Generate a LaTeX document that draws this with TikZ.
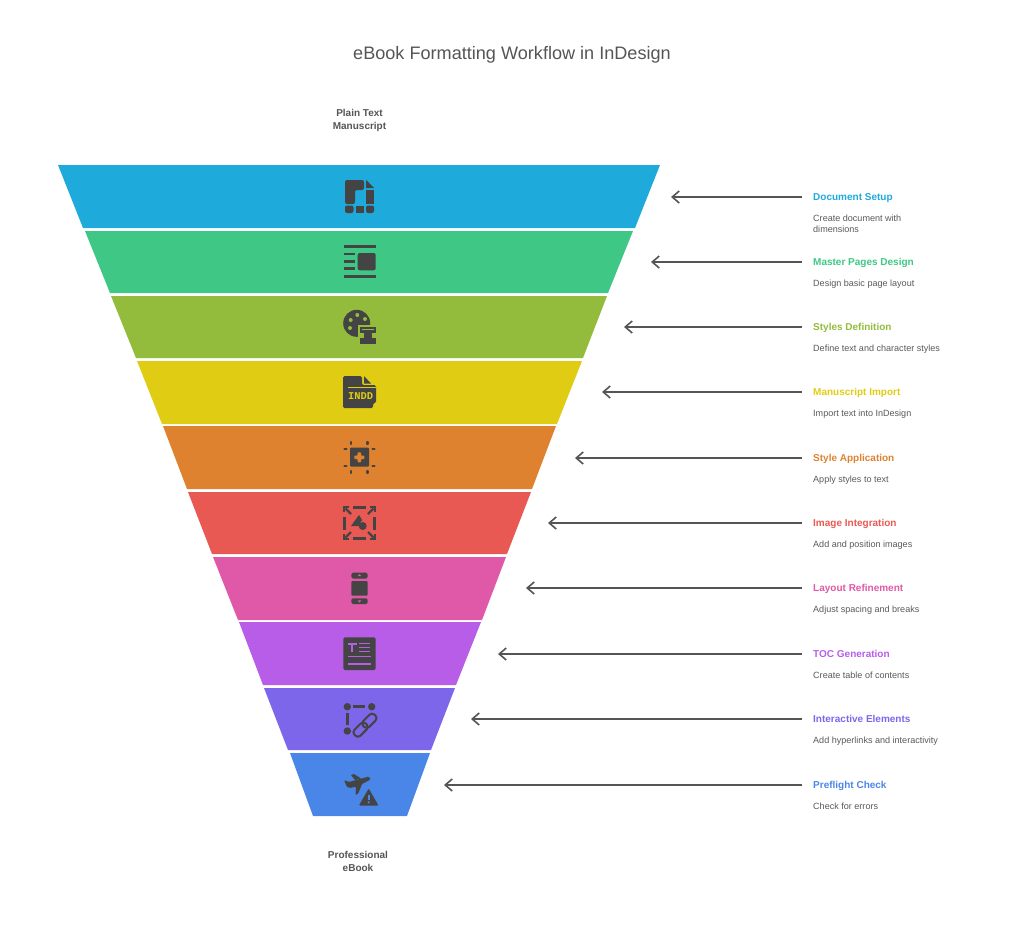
\documentclass[tikz,border=0pt]{standalone}
\usepackage{fontspec}
\setmainfont{Liberation Sans}
\setmonofont{Liberation Mono}
\usetikzlibrary{positioning,arrows.meta}
\definecolor{titlegrey}{HTML}{555555}
\definecolor{inkgrey}{HTML}{444444}
\definecolor{descgrey}{HTML}{595959}
\definecolor{setupcol}{HTML}{1FAADC}
\definecolor{mastercol}{HTML}{3EC785}
\definecolor{stylescol}{HTML}{93BC3C}
\definecolor{importcol}{HTML}{E1CC14}
\definecolor{applycol}{HTML}{DF8230}
\definecolor{imagecol}{HTML}{E85953}
\definecolor{layoutcol}{HTML}{E058A8}
\definecolor{toccol}{HTML}{B85DE8}
\definecolor{linkcol}{HTML}{7D66E9}
\definecolor{flightcol}{HTML}{4A86E8}
\tikzset{
	titletext/.style={text=titlegrey,inner sep=0pt,font=\fontsize{18.1}{22}\selectfont},
	endtext/.style={text=titlegrey,inner sep=0pt,align=center,font=\fontsize{10}{13}\selectfont\bfseries},
	stagehead/.style={anchor=west,inner sep=0pt,text height=8.5pt,text depth=2pt,font=\fontsize{10}{12}\selectfont\bfseries},
	stagedesc/.style={anchor=north west,inner sep=0pt,text=descgrey,align=left,font=\fontsize{9.05}{11.2}\selectfont},
	stagearrow/.style={draw=titlegrey,line width=1.6pt,-{Straight Barb[length=7pt,width=12pt,line width=1.6pt]}},
	iconfill/.style={fill=inkgrey},
	iconline/.style={draw=inkgrey,line width=2.8pt},
}
\begin{document}
\begin{tikzpicture}[x=1pt,y=-1pt]
	\useasboundingbox (0,0) rectangle (1024,937);
	%% title and the two ends
	\node[titletext] (title) at (512,54.5) {eBook Formatting Workflow in InDesign};
	\node[endtext] (plain) at (359.5,120.5) {Plain Text\\Manuscript};
	\node[endtext] (ebook) at (358,861) {Professional\\eBook};

	%% funnel bands
	\fill[setupcol] (58,165) -- (660,165) -- (635,228) -- (83,228) -- cycle;
	\fill[mastercol] (85,231) -- (633,231) -- (608,293) -- (110,293) -- cycle;
	\fill[stylescol] (111,296) -- (607,296) -- (583,358) -- (136,358) -- cycle;
	\fill[importcol] (137,361) -- (582,361) -- (557,424) -- (162,424) -- cycle;
	\fill[applycol] (163,426) -- (556,426) -- (532,489) -- (187,489) -- cycle;
	\fill[imagecol] (188,492) -- (531,492) -- (507,554) -- (212,554) -- cycle;
	\fill[layoutcol] (213,557) -- (506,557) -- (482,620) -- (238,620) -- cycle;
	\fill[toccol] (239,622) -- (481,622) -- (456,685) -- (263,685) -- cycle;
	\fill[linkcol] (264,688) -- (455,688) -- (431,750) -- (288,750) -- cycle;
	\fill[flightcol] (290,753) -- (430,753) -- (407,816) -- (313,816) -- cycle;

	%% document icon
	\fill[iconfill,rounded corners=2pt] (345,180) -- (364,180) -- (364,190) -- (355,190) -- (355,204) -- (345,204) -- cycle;
	\fill[iconfill] (366,180) -- (374,188) -- (366,188) -- cycle;
	\fill[iconfill] (366,189.5) rectangle (374,203.5);
	\fill[iconfill,rounded corners=2pt] (345,205.5) -- (353.5,205.5) -- (353.5,213) -- (345,213) -- cycle;
	\fill[iconfill] (355.5,205.5) rectangle (364,213);
	\fill[iconfill,rounded corners=2pt] (366,205.5) -- (374,205.5) -- (374,213) -- (366,213) -- cycle;

	%% master page icon
	\draw[iconline] (343.5,246.5) -- (375.5,246.5);
	\draw[iconline] (343.5,276.2) -- (375.5,276.2);
	\draw[iconline] (343.5,254) -- (355,254);
	\draw[iconline] (343.5,261.3) -- (355,261.3);
	\draw[iconline] (343.5,268.7) -- (355,268.7);
	\fill[iconfill,rounded corners=2pt] (357.7,253) rectangle (375.7,270.3);

	%% palette and server icon
	\fill[iconfill] (356.7,323.3) circle (13.5);
	\fill[stylescol] (350.7,320) circle (2);
	\fill[stylescol] (357.3,315) circle (2);
	\fill[stylescol] (365,319) circle (2);
	\fill[stylescol] (350,328) circle (2);
	\fill[stylescol] (357.5,325) rectangle (377,345);
	\fill[iconfill] (359.5,326.5) rectangle (376,333);
	\fill[iconfill] (364,333) rectangle (372,338);
	\fill[iconfill] (359.5,338) rectangle (376,343.5);
	\draw[stylescol,line width=0.8pt] (362,329.8) -- (373.5,329.8);

	%% indd file icon
	\fill[iconfill,rounded corners=1.5pt] (343,376) -- (362,376) -- (362,385) -- (376,385) -- (376,403) -- (373,403) -- (373,408) -- (343,408) -- cycle;
	\fill[iconfill] (364,376) -- (371,383.5) -- (364,383.5) -- cycle;
	\draw[importcol,line width=0.9pt] (348,387.5) -- (376,387.5);
	\node[inner sep=0pt,text=importcol,font=\fontsize{10.4}{11}\selectfont\ttfamily\bfseries] (indd) at (360.7,396.5) {INDD};

	%% apply icon
	\fill[iconfill,rounded corners=1pt] (350,447.7) rectangle (369,466.7);
	\fill[applycol,rounded corners=0.8pt] (357.6,452.3) -- (361,452.3) -- (361,455.6) -- (364.4,455.6) -- (364.4,459) -- (361,459) -- (361,462.3) -- (357.6,462.3) -- (357.6,459) -- (354.3,459) -- (354.3,455.6) -- (357.6,455.6) -- cycle;
	\draw[iconline,line width=2.4pt,line cap=round] (351,442) -- (351,444) (367.3,442) -- (367.3,444);
	\draw[iconline,line width=2.4pt,line cap=round] (351,471) -- (351,473) (367.3,471) -- (367.3,473);
	\draw[iconline,line width=2.4pt,line cap=round] (344.5,449) -- (346.5,449) (344.5,465.7) -- (346.5,465.7);
	\draw[iconline,line width=2.4pt,line cap=round] (372.5,449) -- (374.5,449) (372.5,465.7) -- (374.5,465.7);

	%% image frame icon
	\draw[iconline] (353.3,507.5) -- (366,507.5);
	\draw[iconline] (353.3,538.3) -- (366,538.3);
	\draw[iconline] (344.5,516.7) -- (344.5,530);
	\draw[iconline] (374.5,516.7) -- (374.5,530);
	\draw[iconline,line width=2.4pt] (345.5,508.5) -- (351,514);
	\draw[iconline,line width=2.4pt] (373.5,508.5) -- (368,514);
	\draw[iconline,line width=2.4pt] (345.5,537.5) -- (351,532);
	\draw[iconline,line width=2.4pt] (373.5,537.5) -- (368,532);
	\draw[iconline,line width=2pt] (344,512) -- (344,507) -- (349,507);
	\draw[iconline,line width=2pt] (375,512) -- (375,507) -- (370,507);
	\draw[iconline,line width=2pt] (344,534) -- (344,539) -- (349,539);
	\draw[iconline,line width=2pt] (375,534) -- (375,539) -- (370,539);
	\fill[iconfill] (359,515) -- (351,526) -- (358.5,526) -- (362,520) -- cycle;
	\fill[iconfill] (362.7,526) circle (4);

	%% phone icon
	\fill[iconfill,rounded corners=1.5pt] (351.3,572.7) rectangle (367.7,578.5);
	\fill[layoutcol] (359.5,574) -- (361.3,576.2) -- (357.7,576.2) -- cycle;
	\fill[iconfill,rounded corners=1pt] (351.3,581) rectangle (367.7,595.7);
	\fill[iconfill,rounded corners=1.5pt] (351.3,598.3) rectangle (367.7,604);
	\fill[layoutcol] (359.5,602.6) -- (361.3,600.4) -- (357.7,600.4) -- cycle;

	%% contents icon
	\fill[iconfill,rounded corners=2pt] (343.3,637.3) rectangle (375.7,670);
	\draw[toccol,line width=1.8pt] (348,644.3) -- (356.7,644.3) (352.3,644.3) -- (352.3,652);
	\draw[toccol,line width=1.2pt] (359,643.5) -- (370,643.5) (359,647.5) -- (370,647.5) (359,651.5) -- (370,651.5);
	\draw[toccol,line width=1.4pt] (348,656.7) -- (370.7,656.7) (348,664) -- (370.7,664);

	%% hyperlink icon
	\fill[iconfill] (347.3,706.7) circle (3.7);
	\fill[iconfill] (371.7,706.7) circle (3.7);
	\fill[iconfill] (347.3,731) circle (3.7);
	\draw[iconline] (353.3,706.7) -- (365,706.7);
	\draw[iconline] (347.3,713) -- (347.3,725);
	\draw[iconline,line width=2pt,rounded corners=3.6pt,rotate around={45:(360.6,729.6)}] (352.6,725.4) rectangle (368.6,733.8);
	\draw[iconline,line width=2pt,rounded corners=3.6pt,rotate around={45:(369.4,720.8)}] (361.4,716.6) rectangle (377.4,725);

	%% plane and warning icon
	\fill[iconfill,rounded corners=1pt] (344,780) -- (349,782) -- (369,776.5) -- (370.5,779.5) -- (362,784) -- (358,794) -- (355.5,795) -- (356,786.5) -- (350,788) -- (347,787) -- cycle;
	\fill[iconfill] (351,775) -- (354,774) -- (361,778.5) -- (355,780) -- cycle;
	\fill[iconfill,rounded corners=1pt] (368.7,788.5) -- (378.5,805.5) -- (358.9,805.5) -- cycle;
	\draw[flightcol,line width=2pt] (368.7,794.5) -- (368.7,799.5);
	\fill[flightcol] (368.7,802.3) circle (1.2);

	%% stage labels
	\node[stagehead,text=setupcol] (h1) at (813,197) {Document Setup};
	\node[stagedesc,below=12pt of h1.south west,anchor=north west] (d1) {Create document with\\dimensions};
	\node[stagehead,text=mastercol] (h2) at (813,262) {Master Pages Design};
	\node[stagedesc,below=12pt of h2.south west,anchor=north west] (d2) {Design basic page layout};
	\node[stagehead,text=stylescol] (h3) at (813,327) {Styles Definition};
	\node[stagedesc,below=12pt of h3.south west,anchor=north west] (d3) {Define text and character styles};
	\node[stagehead,text=importcol] (h4) at (813,392) {Manuscript Import};
	\node[stagedesc,below=12pt of h4.south west,anchor=north west] (d4) {Import text into InDesign};
	\node[stagehead,text=applycol] (h5) at (813,458) {Style Application};
	\node[stagedesc,below=12pt of h5.south west,anchor=north west] (d5) {Apply styles to text};
	\node[stagehead,text=imagecol] (h6) at (813,523) {Image Integration};
	\node[stagedesc,below=12pt of h6.south west,anchor=north west] (d6) {Add and position images};
	\node[stagehead,text=layoutcol] (h7) at (813,588) {Layout Refinement};
	\node[stagedesc,below=12pt of h7.south west,anchor=north west] (d7) {Adjust spacing and breaks};
	\node[stagehead,text=toccol] (h8) at (813,654) {TOC Generation};
	\node[stagedesc,below=12pt of h8.south west,anchor=north west] (d8) {Create table of contents};
	\node[stagehead,text=linkcol] (h9) at (813,719) {Interactive Elements};
	\node[stagedesc,below=12pt of h9.south west,anchor=north west] (d9) {Add hyperlinks and interactivity};
	\node[stagehead,text=flightcol] (h10) at (813,785) {Preflight Check};
	\node[stagedesc,below=12pt of h10.south west,anchor=north west] (d10) {Check for errors};

	%% arrows
	\coordinate (t1) at (671,197);
	\coordinate (t2) at (651,262);
	\coordinate (t3) at (624,327);
	\coordinate (t4) at (602,392);
	\coordinate (t5) at (575,458);
	\coordinate (t6) at (548,523);
	\coordinate (t7) at (526,588);
	\coordinate (t8) at (498,654);
	\coordinate (t9) at (471,719);
	\coordinate (t10) at (444,785);
	\draw[stagearrow] ([xshift=-11pt]h1.west) -- (t1 |- h1.west);
	\draw[stagearrow] ([xshift=-11pt]h2.west) -- (t2 |- h2.west);
	\draw[stagearrow] ([xshift=-11pt]h3.west) -- (t3 |- h3.west);
	\draw[stagearrow] ([xshift=-11pt]h4.west) -- (t4 |- h4.west);
	\draw[stagearrow] ([xshift=-11pt]h5.west) -- (t5 |- h5.west);
	\draw[stagearrow] ([xshift=-11pt]h6.west) -- (t6 |- h6.west);
	\draw[stagearrow] ([xshift=-11pt]h7.west) -- (t7 |- h7.west);
	\draw[stagearrow] ([xshift=-11pt]h8.west) -- (t8 |- h8.west);
	\draw[stagearrow] ([xshift=-11pt]h9.west) -- (t9 |- h9.west);
	\draw[stagearrow] ([xshift=-11pt]h10.west) -- (t10 |- h10.west);
\end{tikzpicture}
\end{document}
